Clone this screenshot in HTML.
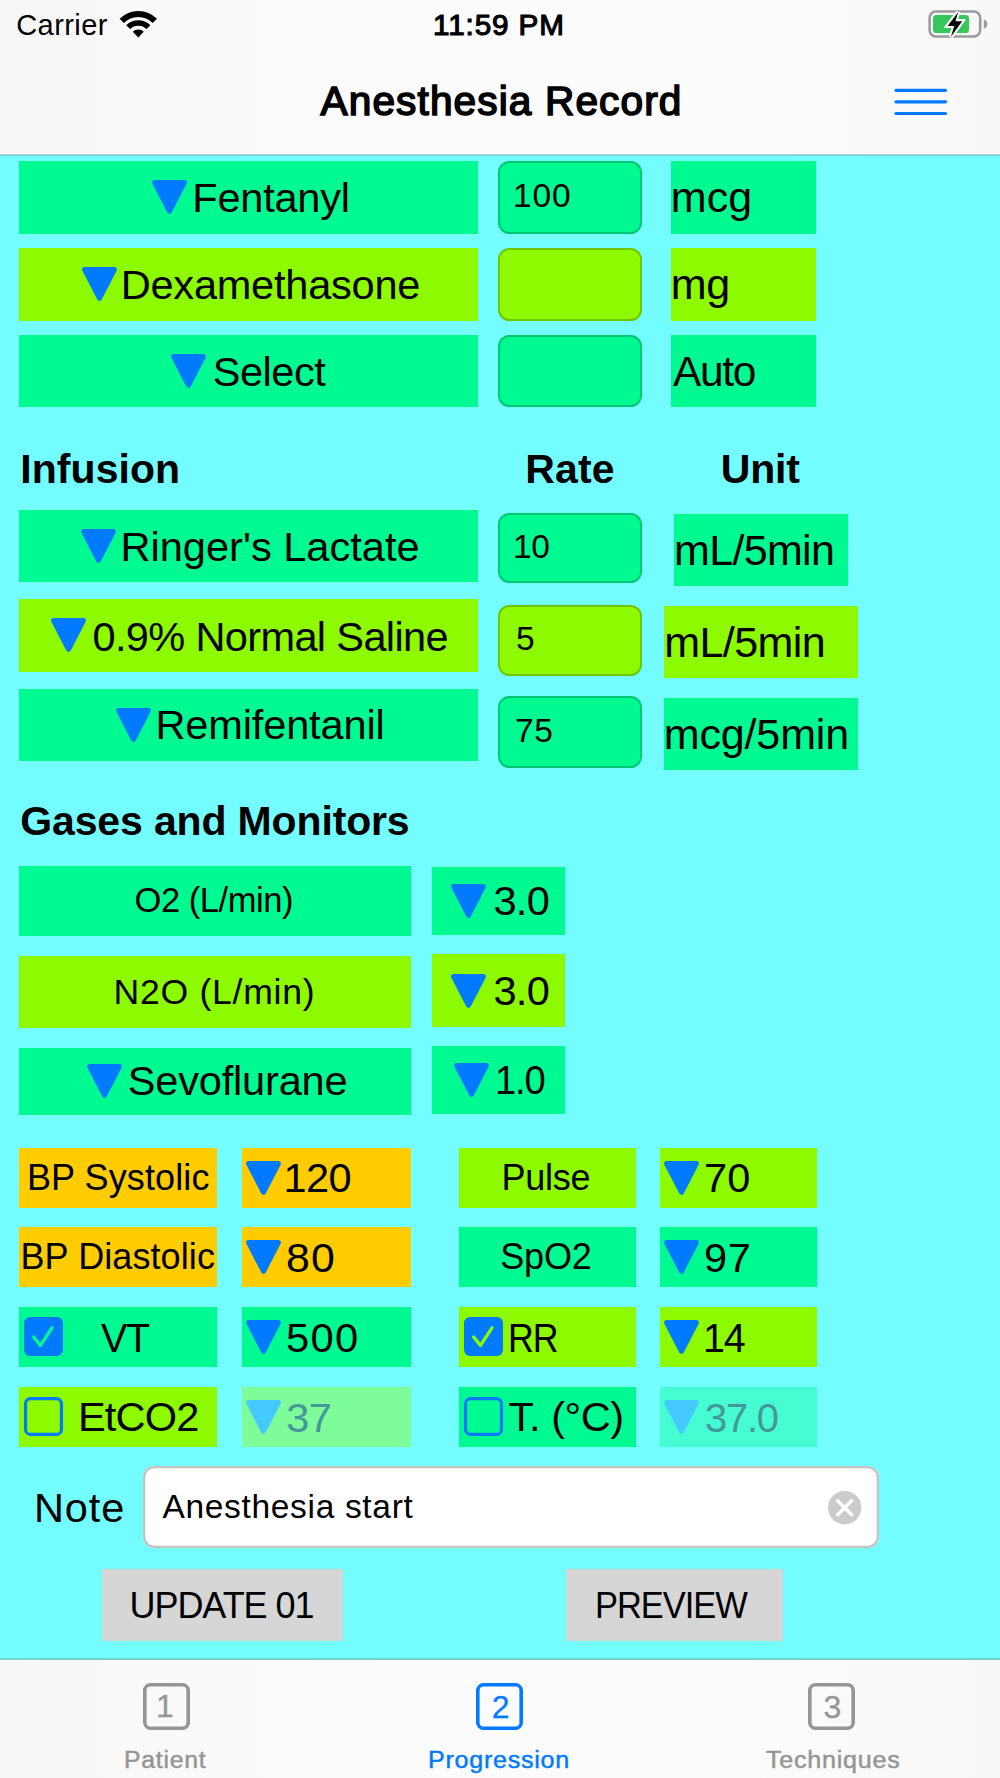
<!DOCTYPE html>
<html lang="en">
<head>
<meta charset="utf-8">
<title>Anesthesia Record</title>
<style>
html,body{margin:0;padding:0}
body{width:1000px;height:1778px;overflow:hidden;background:#73FDFF;font-family:"Liberation Sans",sans-serif}
#app{position:relative;width:1000px;height:1778px;overflow:hidden;background:#73FDFF}
.box{position:absolute}
.tri{position:absolute;overflow:visible}
.t{position:absolute;white-space:pre;line-height:1;color:#000;transform-origin:0 50%}
#nav{position:absolute;left:0;top:0;width:1000px;height:153px;background:linear-gradient(90deg,#f7f7f7 0,#f9f9f9 14%,#fcfcfc 42%,#fcfcfc 72%,#f8f8f8 100%)}
#navline{position:absolute;left:0;top:153px;width:1000px;height:3px;background:linear-gradient(#fff 0 1px,#b9d2d3 1px 2px,#5fd9db 2px 3px)}
#tabbar{position:absolute;left:0;top:1661px;width:1000px;height:117px;background:linear-gradient(90deg,#f7f7f7 0,#f9f9f9 14%,#fcfcfc 42%,#fcfcfc 72%,#f8f8f8 100%)}
#tabline{position:absolute;left:0;top:1658px;width:1000px;height:3px;background:linear-gradient(#63e3e5 0 1px,#82c2c3 1px 2px,#fefefe 2px 3px)}
</style>
</head>
<body>
<div id="app">
<div id="nav"></div>
<div id="navline"></div>
<div id="tabbar"></div>
<div id="tabline"></div>
<!-- wifi -->
<svg class="tri" style="left:120.2px;top:10.5px" width="36.6" height="26.4" viewBox="0 0 36.6 26.4"><path d="M-0.37 7.73 A26.4 26.4 0 0 1 36.97 7.73 L32.72 11.98 A20.4 20.4 0 0 0 3.88 11.98 Z M6.21 14.31 A17.1 17.1 0 0 1 30.39 14.31 L26.57 18.13 A11.7 11.7 0 0 0 10.03 18.13 Z M18.3 26.4 L12.78 20.88 A7.8 7.8 0 0 1 23.82 20.88 Z" fill="#000"/></svg>
<!-- battery -->
<svg class="tri" style="left:927px;top:9px" width="62" height="31" viewBox="0 0 62 31"><rect x="2.6" y="2.6" width="50.6" height="24.8" rx="6.3" fill="none" stroke="#9a9a9a" stroke-width="2.5"/><path d="M56.8 10.2 Q60.3 11.8 60.3 15 Q60.3 18.2 56.8 19.8 Z" fill="#9a9a9a"/><rect x="6" y="6" width="36" height="18" rx="3.6" fill="#35C759"/><path d="M31.2 3 L20.6 17 L27.3 17 L23.8 28 L35.2 12.2 L28.4 12.2 Z" fill="#000" stroke="#fafafa" stroke-width="4.2" paint-order="stroke" stroke-linejoin="miter"/></svg>
<!-- menu -->
<svg class="tri" style="left:893px;top:86px" width="56" height="32" viewBox="0 0 56 32"><path d="M3 4.3 H52.5 M3 15.8 H52.5 M3 27.5 H52.5" stroke="#007AFF" stroke-width="3.2" stroke-linecap="round"/></svg>

<section id="statusbar">
<span class="t" style="left:16.25px;top:11.45px;font-size:29px;letter-spacing:0.42px;">Carrier</span>
<span class="t" style="left:432.93px;top:10.79px;font-size:28.6px;letter-spacing:0.86px;transform:scaleX(1.037);-webkit-text-stroke:1.1px #000;">11:59 PM</span>
</section>
<section id="navbar">
<span class="t" style="left:320.50px;top:80.63px;font-size:40.6px;letter-spacing:1.13px;-webkit-text-stroke:1.6px #000;">Anesthesia Record</span>
</section>
<section id="medications">
<div class="box" style="left:19.3px;top:161px;width:458.7px;height:72.5px;background:#00FA92;"></div>
<svg class="tri" style="left:152px;top:180px" width="35" height="34" viewBox="0 0 35 34"><path d="M2.6 2.5 L32.4 2.5 L17.5 31.3 Z" fill="#007AFF" stroke="#007AFF" stroke-width="5" stroke-linejoin="round"/></svg>
<div class="box" style="left:498px;top:161px;width:144px;height:72.5px;background:#00FA92;box-shadow:inset 0 0 0 1.9px rgba(0,0,0,.21);border-radius:11.5px"></div>
<div class="box" style="left:670.5px;top:161px;width:145.5px;height:72.5px;background:#00FA92;"></div>
<div class="box" style="left:19.3px;top:248px;width:458.7px;height:72.5px;background:#8EFA00;"></div>
<svg class="tri" style="left:81.5px;top:267px" width="35" height="34" viewBox="0 0 35 34"><path d="M2.6 2.5 L32.4 2.5 L17.5 31.3 Z" fill="#007AFF" stroke="#007AFF" stroke-width="5" stroke-linejoin="round"/></svg>
<div class="box" style="left:498px;top:248px;width:144px;height:72.5px;background:#8EFA00;box-shadow:inset 0 0 0 1.9px rgba(0,0,0,.21);border-radius:11.5px"></div>
<div class="box" style="left:670.5px;top:248px;width:145.5px;height:72.5px;background:#8EFA00;"></div>
<div class="box" style="left:19.3px;top:335px;width:458.7px;height:72px;background:#00FA92;"></div>
<svg class="tri" style="left:171px;top:354px" width="35" height="34" viewBox="0 0 35 34"><path d="M2.6 2.5 L32.4 2.5 L17.5 31.3 Z" fill="#007AFF" stroke="#007AFF" stroke-width="5" stroke-linejoin="round"/></svg>
<div class="box" style="left:498px;top:335px;width:144px;height:72px;background:#00FA92;box-shadow:inset 0 0 0 1.9px rgba(0,0,0,.21);border-radius:11.5px"></div>
<div class="box" style="left:670.5px;top:335px;width:145.5px;height:72px;background:#00FA92;"></div>
<span class="t" style="left:192.25px;top:177.37px;font-size:41.5px;letter-spacing:-0.21px;">Fentanyl</span>
<span class="t" style="left:513.00px;top:179.14px;font-size:33.5px;letter-spacing:0.87px;">100</span>
<span class="t" style="left:670.75px;top:176.10px;font-size:43px;letter-spacing:0.09px;">mcg</span>
<span class="t" style="left:120.75px;top:264.37px;font-size:41.5px;letter-spacing:-0.22px;">Dexamethasone</span>
<span class="t" style="left:670.75px;top:263.10px;font-size:43px;letter-spacing:-0.32px;">mg</span>
<span class="t" style="left:212.75px;top:351.37px;font-size:41.5px;letter-spacing:-0.46px;">Select</span>
<span class="t" style="left:672.75px;top:350.10px;font-size:43px;letter-spacing:-1.29px;transform:scaleX(0.986);">Auto</span>
</section>
<section id="infusions">
<div class="box" style="left:19.3px;top:510px;width:458.7px;height:72px;background:#00FA92;"></div>
<svg class="tri" style="left:81px;top:529px" width="35" height="34" viewBox="0 0 35 34"><path d="M2.6 2.5 L32.4 2.5 L17.5 31.3 Z" fill="#007AFF" stroke="#007AFF" stroke-width="5" stroke-linejoin="round"/></svg>
<div class="box" style="left:498px;top:512.5px;width:144px;height:70.5px;background:#00FA92;box-shadow:inset 0 0 0 1.9px rgba(0,0,0,.21);border-radius:11.5px"></div>
<div class="box" style="left:673.75px;top:514.25px;width:174.25px;height:71.5px;background:#00FA92;"></div>
<div class="box" style="left:19.3px;top:599.25px;width:458.7px;height:72.25px;background:#8EFA00;"></div>
<svg class="tri" style="left:50.75px;top:618.25px" width="35" height="34" viewBox="0 0 35 34"><path d="M2.6 2.5 L32.4 2.5 L17.5 31.3 Z" fill="#007AFF" stroke="#007AFF" stroke-width="5" stroke-linejoin="round"/></svg>
<div class="box" style="left:498px;top:604.5px;width:144px;height:71.0px;background:#8EFA00;box-shadow:inset 0 0 0 1.9px rgba(0,0,0,.21);border-radius:11.5px"></div>
<div class="box" style="left:664.25px;top:605.5px;width:193.25px;height:72.5px;background:#8EFA00;"></div>
<div class="box" style="left:19.3px;top:688.75px;width:458.7px;height:72.25px;background:#00FA92;"></div>
<svg class="tri" style="left:116px;top:707.75px" width="35" height="34" viewBox="0 0 35 34"><path d="M2.6 2.5 L32.4 2.5 L17.5 31.3 Z" fill="#007AFF" stroke="#007AFF" stroke-width="5" stroke-linejoin="round"/></svg>
<div class="box" style="left:498px;top:696.25px;width:144px;height:71.25px;background:#00FA92;box-shadow:inset 0 0 0 1.9px rgba(0,0,0,.21);border-radius:11.5px"></div>
<div class="box" style="left:664.25px;top:697.5px;width:193.25px;height:72.0px;background:#00FA92;"></div>
<span class="t" style="left:20.30px;top:449.29px;font-size:41px;letter-spacing:0.06px;font-weight:700;">Infusion</span>
<span class="t" style="left:525.25px;top:449.29px;font-size:41px;letter-spacing:0.15px;font-weight:700;">Rate</span>
<span class="t" style="left:720.75px;top:449.49px;font-size:41px;letter-spacing:-0.18px;font-weight:700;">Unit</span>
<span class="t" style="left:120.50px;top:525.62px;font-size:41.5px;letter-spacing:0.03px;">Ringer's Lactate</span>
<span class="t" style="left:512.88px;top:529.64px;font-size:33.5px;letter-spacing:-0.38px;">10</span>
<span class="t" style="left:674.00px;top:528.60px;font-size:43px;letter-spacing:-0.66px;">mL/5min</span>
<span class="t" style="left:92.50px;top:615.62px;font-size:41.5px;letter-spacing:-0.63px;">0.9% Normal Saline</span>
<span class="t" style="left:516.00px;top:622.14px;font-size:33.5px;">5</span>
<span class="t" style="left:664.25px;top:620.60px;font-size:43px;letter-spacing:-0.58px;">mL/5min</span>
<span class="t" style="left:155.50px;top:704.37px;font-size:41.5px;letter-spacing:-0.13px;">Remifentanil</span>
<span class="t" style="left:514.88px;top:714.14px;font-size:33.5px;letter-spacing:0.62px;">75</span>
<span class="t" style="left:663.75px;top:713.35px;font-size:43px;letter-spacing:-0.14px;">mcg/5min</span>
</section>
<section id="gases">
<div class="box" style="left:19.3px;top:865.5px;width:391.45px;height:70.75px;background:#00FA92;"></div>
<div class="box" style="left:432px;top:867px;width:133.25px;height:67.5px;background:#00FA92;"></div>
<svg class="tri" style="left:451.25px;top:883.75px" width="35" height="34" viewBox="0 0 35 34"><path d="M2.6 2.5 L32.4 2.5 L17.5 31.3 Z" fill="#007AFF" stroke="#007AFF" stroke-width="5" stroke-linejoin="round"/></svg>
<div class="box" style="left:19.3px;top:956px;width:391.45px;height:71.75px;background:#8EFA00;"></div>
<div class="box" style="left:432px;top:953.75px;width:133.25px;height:72.75px;background:#8EFA00;"></div>
<svg class="tri" style="left:451.25px;top:973.75px" width="35" height="34" viewBox="0 0 35 34"><path d="M2.6 2.5 L32.4 2.5 L17.5 31.3 Z" fill="#007AFF" stroke="#007AFF" stroke-width="5" stroke-linejoin="round"/></svg>
<div class="box" style="left:19.3px;top:1047.75px;width:391.45px;height:67.25px;background:#00FA92;"></div>
<svg class="tri" style="left:86.8px;top:1063.5px" width="35" height="34" viewBox="0 0 35 34"><path d="M2.6 2.5 L32.4 2.5 L17.5 31.3 Z" fill="#007AFF" stroke="#007AFF" stroke-width="5" stroke-linejoin="round"/></svg>
<div class="box" style="left:432px;top:1046.25px;width:133.25px;height:67.5px;background:#00FA92;"></div>
<svg class="tri" style="left:453.75px;top:1063px" width="35" height="34" viewBox="0 0 35 34"><path d="M2.6 2.5 L32.4 2.5 L17.5 31.3 Z" fill="#007AFF" stroke="#007AFF" stroke-width="5" stroke-linejoin="round"/></svg>
<span class="t" style="left:20.33px;top:800.79px;font-size:41px;letter-spacing:-0.15px;font-weight:700;">Gases and Monitors</span>
<span class="t" style="left:134.50px;top:883.10px;font-size:34.5px;letter-spacing:-0.45px;">O2 (L/min)</span>
<span class="t" style="left:493.38px;top:880.37px;font-size:41.5px;letter-spacing:-0.68px;">3.0</span>
<span class="t" style="left:113.55px;top:975.26px;font-size:35.6px;letter-spacing:0.72px;">N2O (L/min)</span>
<span class="t" style="left:493.38px;top:969.87px;font-size:41.5px;letter-spacing:-0.68px;">3.0</span>
<span class="t" style="left:127.70px;top:1059.87px;font-size:41.5px;letter-spacing:-0.16px;">Sevoflurane</span>
<span class="t" style="left:494.74px;top:1059.37px;font-size:41.5px;letter-spacing:-1.24px;transform:scaleX(0.919);">1.0</span>
</section>
<section id="monitors">
<div class="box" style="left:19.3px;top:1147.5px;width:197.7px;height:60.0px;background:#FFCC00;"></div>
<div class="box" style="left:242px;top:1147.5px;width:168.75px;height:60.0px;background:#FFCC00;"></div>
<div class="box" style="left:459.25px;top:1147.5px;width:176.5px;height:60.0px;background:#8EFA00;"></div>
<div class="box" style="left:660px;top:1147.5px;width:157px;height:60.0px;background:#8EFA00;"></div>
<div class="box" style="left:19.3px;top:1227px;width:197.7px;height:60px;background:#FFCC00;"></div>
<div class="box" style="left:242px;top:1227px;width:168.75px;height:60px;background:#FFCC00;"></div>
<div class="box" style="left:459.25px;top:1227px;width:176.5px;height:60px;background:#00FA92;"></div>
<div class="box" style="left:660px;top:1227px;width:157px;height:60px;background:#00FA92;"></div>
<div class="box" style="left:19.3px;top:1307px;width:197.7px;height:59.75px;background:#00FA92;"></div>
<div class="box" style="left:242px;top:1307px;width:168.75px;height:59.75px;background:#00FA92;"></div>
<div class="box" style="left:459.25px;top:1307px;width:176.5px;height:59.75px;background:#8EFA00;"></div>
<div class="box" style="left:660px;top:1307px;width:157px;height:59.75px;background:#8EFA00;"></div>
<div class="box" style="left:19.3px;top:1387px;width:197.7px;height:59.75px;background:#8EFA00;"></div>
<div class="box" style="left:242px;top:1387px;width:168.75px;height:59.75px;background:#7EFC99;"></div>
<div class="box" style="left:459.25px;top:1387px;width:176.5px;height:59.75px;background:#00FA92;"></div>
<div class="box" style="left:660px;top:1387px;width:157px;height:59.75px;background:#45FCD3;"></div>
<svg class="tri" style="left:245.5px;top:1160.5px" width="35" height="34" viewBox="0 0 35 34"><path d="M2.6 2.5 L32.4 2.5 L17.5 31.3 Z" fill="#007AFF" stroke="#007AFF" stroke-width="5" stroke-linejoin="round"/></svg>
<svg class="tri" style="left:664.25px;top:1160.5px" width="35" height="34" viewBox="0 0 35 34"><path d="M2.6 2.5 L32.4 2.5 L17.5 31.3 Z" fill="#007AFF" stroke="#007AFF" stroke-width="5" stroke-linejoin="round"/></svg>
<svg class="tri" style="left:245.5px;top:1240px" width="35" height="34" viewBox="0 0 35 34"><path d="M2.6 2.5 L32.4 2.5 L17.5 31.3 Z" fill="#007AFF" stroke="#007AFF" stroke-width="5" stroke-linejoin="round"/></svg>
<svg class="tri" style="left:664.25px;top:1240px" width="35" height="34" viewBox="0 0 35 34"><path d="M2.6 2.5 L32.4 2.5 L17.5 31.3 Z" fill="#007AFF" stroke="#007AFF" stroke-width="5" stroke-linejoin="round"/></svg>
<svg class="tri" style="left:245.5px;top:1320px" width="35" height="34" viewBox="0 0 35 34"><path d="M2.6 2.5 L32.4 2.5 L17.5 31.3 Z" fill="#007AFF" stroke="#007AFF" stroke-width="5" stroke-linejoin="round"/></svg>
<svg class="tri" style="left:664.25px;top:1320px" width="35" height="34" viewBox="0 0 35 34"><path d="M2.6 2.5 L32.4 2.5 L17.5 31.3 Z" fill="#007AFF" stroke="#007AFF" stroke-width="5" stroke-linejoin="round"/></svg>
<svg class="tri" style="left:245.5px;top:1400px" width="35" height="34" viewBox="0 0 35 34"><path d="M2.6 2.5 L32.4 2.5 L17.5 31.3 Z" fill="#45C9FF" stroke="#45C9FF" stroke-width="5" stroke-linejoin="round"/></svg>
<svg class="tri" style="left:664.25px;top:1400px" width="35" height="34" viewBox="0 0 35 34"><path d="M2.6 2.5 L32.4 2.5 L17.5 31.3 Z" fill="#45C9FF" stroke="#45C9FF" stroke-width="5" stroke-linejoin="round"/></svg>
<svg class="tri" style="left:24.05px;top:1317.1px" width="39" height="39" viewBox="0 0 39 39"><rect width="39" height="39" rx="6.2" fill="#007AFF"/><path d="M9.7 20 L16.5 28.4 L28 10.8" fill="none" stroke="#00FA92" stroke-width="3.3" stroke-linecap="round" stroke-linejoin="round"/></svg>
<svg class="tri" style="left:24.05px;top:1397px" width="39" height="39" viewBox="0 0 39 39"><rect x="1.55" y="1.55" width="35.9" height="35.9" rx="5" fill="none" stroke="#007AFF" stroke-width="3.2"/></svg>
<svg class="tri" style="left:463.55px;top:1317.1px" width="39" height="39" viewBox="0 0 39 39"><rect width="39" height="39" rx="6.2" fill="#007AFF"/><path d="M9.7 20 L16.5 28.4 L28 10.8" fill="none" stroke="#8EFA00" stroke-width="3.3" stroke-linecap="round" stroke-linejoin="round"/></svg>
<svg class="tri" style="left:463.55px;top:1397px" width="39" height="39" viewBox="0 0 39 39"><rect x="1.55" y="1.55" width="35.9" height="35.9" rx="5" fill="none" stroke="#007AFF" stroke-width="3.2"/></svg>
<span class="t" style="left:26.88px;top:1159.53px;font-size:36px;letter-spacing:0.12px;">BP Systolic</span>
<span class="t" style="left:20.50px;top:1238.78px;font-size:36px;letter-spacing:0.09px;">BP Diastolic</span>
<span class="t" style="left:501.38px;top:1159.53px;font-size:36px;letter-spacing:-0.20px;">Pulse</span>
<span class="t" style="left:500.25px;top:1238.53px;font-size:36px;letter-spacing:-0.18px;">SpO2</span>
<span class="t" style="left:101.12px;top:1316.62px;font-size:41.5px;letter-spacing:-1.24px;transform:scaleX(0.948);">VT</span>
<span class="t" style="left:77.88px;top:1396.12px;font-size:41.5px;letter-spacing:-0.80px;">EtCO2</span>
<span class="t" style="left:507.92px;top:1316.62px;font-size:41.5px;letter-spacing:-1.24px;transform:scaleX(0.859);">RR</span>
<span class="t" style="left:508.62px;top:1396.12px;font-size:41.5px;letter-spacing:-0.41px;">T. (°C)</span>
<span class="t" style="left:283.38px;top:1157.37px;font-size:41.5px;letter-spacing:-0.46px;">120</span>
<span class="t" style="left:703.88px;top:1157.37px;font-size:41.5px;letter-spacing:0.17px;">70</span>
<span class="t" style="left:285.59px;top:1236.87px;font-size:41.5px;letter-spacing:1.24px;transform:scaleX(1.031);">80</span>
<span class="t" style="left:704.12px;top:1236.87px;font-size:41.5px;letter-spacing:0.67px;">97</span>
<span class="t" style="left:286.49px;top:1316.87px;font-size:41.5px;letter-spacing:1.24px;transform:scaleX(1.005);">500</span>
<span class="t" style="left:703.28px;top:1316.87px;font-size:41.5px;letter-spacing:-1.24px;transform:scaleX(0.949);">14</span>
<span class="t" style="left:286.25px;top:1396.87px;font-size:41.5px;letter-spacing:-0.58px;color:#459899;">37</span>
<span class="t" style="left:705.04px;top:1396.87px;font-size:41.5px;letter-spacing:-1.24px;transform:scaleX(0.961);color:#459899;">37.0</span>
</section>
<section id="note">
<div class="box" style="left:143.4px;top:1466.2px;width:735.2px;height:81.59999999999991px;background:#fff;box-shadow:inset 0 0 0 2.3px #c6c3c3;border-radius:11.5px"></div>
<svg class="tri" style="left:827.8px;top:1491.3px" width="33.4" height="33.4" viewBox="0 0 33.4 33.4"><circle cx="16.7" cy="16.7" r="16.7" fill="#cbcbcb"/><path d="M9.7 9.7 L23.7 23.7 M23.7 9.7 L9.7 23.7" stroke="#fff" stroke-width="3.5" stroke-linecap="round"/></svg>
<span class="t" style="left:33.88px;top:1487.37px;font-size:41.5px;letter-spacing:0.89px;">Note</span>
<span class="t" style="left:162.50px;top:1489.64px;font-size:33.5px;letter-spacing:0.67px;">Anesthesia start</span>
</section>
<section id="actions">
<div class="box" style="left:101.75px;top:1568.75px;width:241.25px;height:71.75px;background:#D6D6D6;"></div>
<div class="box" style="left:565.5px;top:1568.75px;width:217.0px;height:71.75px;background:#D6D6D6;"></div>
<span class="t" style="left:129.50px;top:1587.53px;font-size:36px;letter-spacing:-1.05px;">UPDATE 01</span>
<span class="t" style="left:595.21px;top:1587.53px;font-size:36px;letter-spacing:-1.08px;transform:scaleX(0.957);">PREVIEW</span>
</section>
<section id="tabs">
<svg class="tri" style="left:142.6px;top:1683px" width="47" height="47" viewBox="0 0 47 47"><rect x="1.8" y="1.8" width="43.4" height="43.4" rx="5.8" fill="none" stroke="#959595" stroke-width="3.6"/></svg>
<svg class="tri" style="left:476px;top:1683px" width="47" height="47" viewBox="0 0 47 47"><rect x="1.8" y="1.8" width="43.4" height="43.4" rx="5.8" fill="none" stroke="#007AFF" stroke-width="3.6"/></svg>
<svg class="tri" style="left:808.1px;top:1683px" width="47" height="47" viewBox="0 0 47 47"><rect x="1.8" y="1.8" width="43.4" height="43.4" rx="5.8" fill="none" stroke="#959595" stroke-width="3.6"/></svg>
<span class="t" style="left:124.45px;top:1749.11px;font-size:23.5px;letter-spacing:0.70px;transform:scaleX(1.054);color:#959595;-webkit-text-stroke:0.45px #959595;">Patient</span>
<span class="t" style="left:156.00px;top:1690.41px;font-size:32px;color:#959595;-webkit-text-stroke:0.3px #959595;">1</span>
<span class="t" style="left:428.43px;top:1749.11px;font-size:23.5px;letter-spacing:0.70px;transform:scaleX(1.066);color:#007AFF;-webkit-text-stroke:0.45px #007AFF;">Progression</span>
<span class="t" style="left:491.70px;top:1690.91px;font-size:32px;color:#007AFF;-webkit-text-stroke:0.3px #007AFF;">2</span>
<span class="t" style="left:766.00px;top:1749.11px;font-size:23.5px;letter-spacing:0.70px;transform:scaleX(1.068);color:#959595;-webkit-text-stroke:0.45px #959595;">Techniques</span>
<span class="t" style="left:823.50px;top:1690.91px;font-size:32px;color:#959595;-webkit-text-stroke:0.3px #959595;">3</span>
</section>
</div>
</body>
</html>
